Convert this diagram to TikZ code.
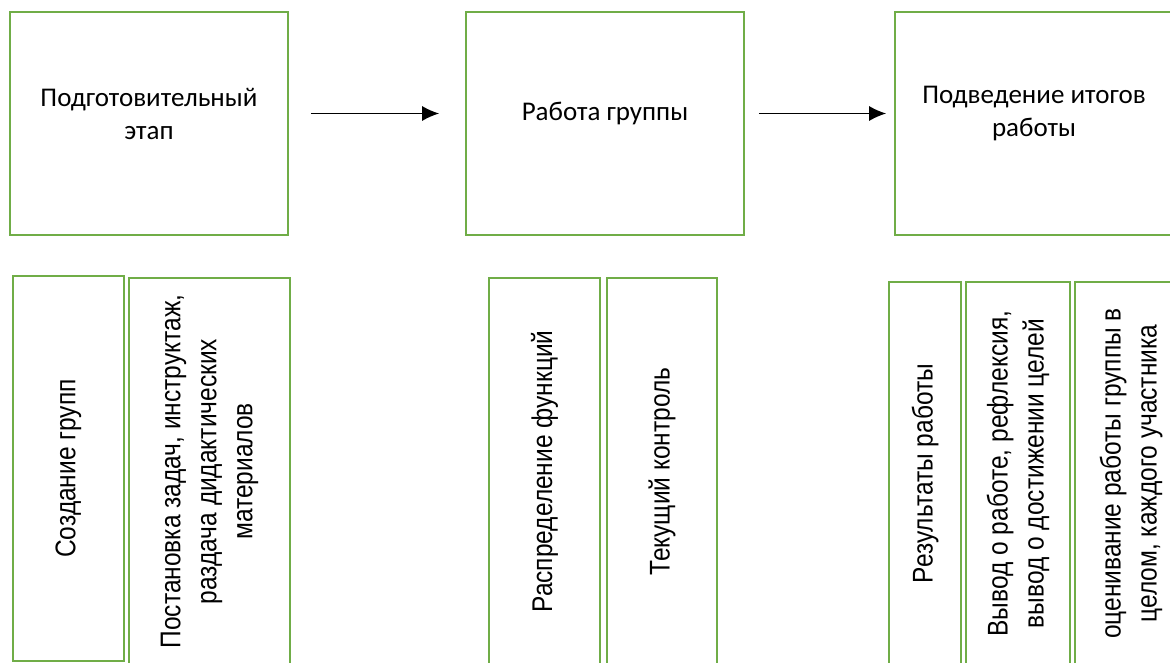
\documentclass[tikz,border=0pt]{standalone}
\usepackage{fontspec}
\setmainfont{Liberation Sans}
\newfontfamily\stagefont{Carlito}
\newfontfamily\taskfont[FakeStretch=0.86]{Liberation Sans}
\usetikzlibrary{arrows.meta}
\definecolor{boxgreen}{RGB}{112,173,71}
\tikzset{
	stage/.style={draw=boxgreen, line width=1.6pt, minimum width=278pt, minimum height=223pt, inner sep=0pt},
	stagetxt/.style={align=center, font=\stagefont\fontsize{27}{33}\selectfont, inner sep=0pt},
	task/.style={draw=boxgreen, line width=1.6pt, rotate=90, inner sep=0pt, align=center, font=\taskfont\fontsize{28.5}{36}\selectfont},
	flow/.style={-{Latex[length=17pt,width=15pt]}, line width=1.5pt}
}

\begin{document}
\begin{tikzpicture}[x=1pt, y=-1pt]
			%%%%% START %%%%%
			\useasboundingbox (0,0) rectangle (1170,663);
			\clip (0,0) rectangle (1170,663);
			
			\node[stage] (prep) at (149,123.5) {};
			\node[stage] (work) at (605,123.5) {};
			\node[stage] (sum) at (1034,123.5) {};
			
			\node[stagetxt] (preptxt) at ([yshift=10pt]prep.center) {Подготовительный\\этап};
			\node[stagetxt] (worktxt) at ([yshift=10pt]work.center) {Работа группы};
			\node[stagetxt] (sumtxt) at ([yshift=10pt]sum.center) {Подведение итогов\\работы};
			
			\draw[flow, shorten <=22pt, shorten >=26pt] (prep.east |- preptxt) -- (work.west |- preptxt);
			\draw[flow, shorten <=14pt, shorten >=8pt] (work.east |- worktxt) -- (sum.west |- worktxt);
			
			\node[task, minimum width=385pt, minimum height=111pt] (groups) at (68.5,468.5) {Создание групп};
			\node[task, minimum width=387pt, minimum height=161pt] (brief) at (209.5,471.5) {Постановка задач, инструктаж,\\раздача дидактических\\материалов};
			
			\node[task, minimum width=387pt, minimum height=111pt] (roles) at (544.5,471.5) {Распределение функций};
			\node[task, minimum width=387pt, minimum height=110pt] (check) at (662,471.5) {Текущий контроль};
			
			\node[task, minimum width=383pt, minimum height=72pt] (result) at (925,473.5) {Результаты работы};
			\node[task, minimum width=383pt, minimum height=104pt] (reflex) at (1018,473.5) {Вывод о работе, рефлексия,\\вывод о достижении целей};
			\node[task, minimum width=383pt, minimum height=112pt] (grade) at (1131,473.5) {оценивание работы группы в\\целом, каждого участника};
			
			%%%%% END %%%%%
\end{tikzpicture}
\end{document}
